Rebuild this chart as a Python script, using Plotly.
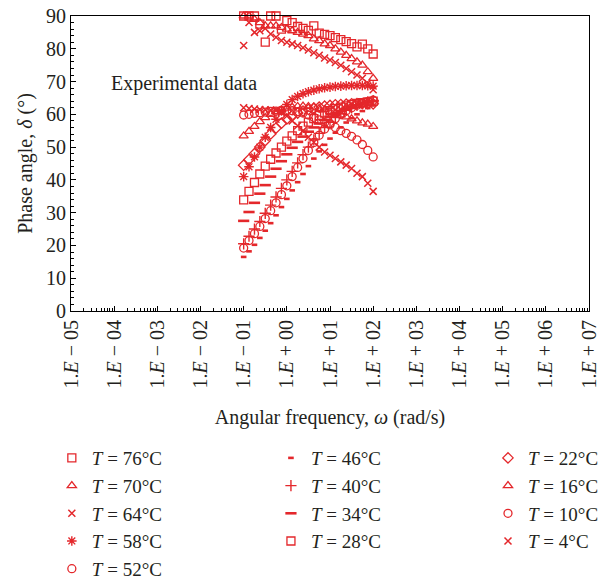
import numpy as np
import plotly.graph_objects as go

# Angular frequency sweep (rad/s)
freq = [0.1, 0.133, 0.178, 0.237, 0.316, 0.422, 0.562, 0.75, 1.0, 1.33, 1.78, 2.37,
        3.16, 4.22, 5.62, 7.5, 10.0, 13.3, 17.8, 23.7, 31.6, 42.2, 56.2, 75.0, 100.0]

# Phase angle (deg) per test temperature
delta_76 = [90, 90, 90, 87.5, 82, 90, 90, 86, 88.6, 88, 86.8, 86.2, 85.6, 87, 84.8, 84.4,
            84, 83.4, 82.8, 82.2, 81.6, 80.6, 81.4, 80, 78.4]
delta_70 = [90, 90, 89, 88, 87, 87, 87, 86.5, 86, 85.5, 85, 84.5, 84, 83, 82.5, 81.5,
            81, 80, 79, 78, 77, 76, 75, 73, 71]
delta_64 = [81, 88, 85, 85.5, 86.2, 84.5, 83.5, 82.5, 82, 81.5, 81, 80.3, 79.6, 78.8, 78, 77.2,
            76.6, 75.8, 75, 74, 73, 72, 71, 69.5, 67.5]
delta_58 = [41, 44, 47, 50, 53, 56, 58.5, 61, 63, 64.5, 65.5, 66.3, 66.9, 67.4, 67.8, 68.1,
            68.3, 68.5, 68.6, 68.7, 68.8, 68.8, 68.8, 68.7, 68.6]
delta_52 = [19.2, 21.5, 23.6, 25.8, 28.2, 30.6, 33, 35.5, 38.2, 41, 43.8, 46.5, 49, 51.4, 53.6, 55.5,
            57.2, 58.7, 60, 61.1, 62, 62.8, 63.4, 63.9, 64.3]
delta_46 = [16.5, 18.2, 20.2, 22.3, 24.5, 26.8, 29.2, 31.7, 34.2, 36.8, 39.3, 41.8, 44.2, 46.5, 48.7, 50.7,
            52.6, 54.4, 56, 57.5, 58.8, 60, 61, 61.9, 62.7]
delta_40 = [20.5, 22.8, 25, 27.3, 29.8, 32.3, 34.8, 37.4, 40, 42.6, 45.2, 47.7, 50, 52.2, 54.2, 56,
            57.6, 59, 60.2, 61.2, 62, 62.7, 63.3, 63.8, 64.2]
delta_34 = [27.5, 30.2, 33, 35.8, 38.4, 41, 43.4, 45.7, 47.8, 49.8, 51.6, 53.2, 54.7, 56, 57.2, 58.3,
            59.3, 60.2, 61, 61.7, 62.3, 62.8, 63.3, 63.7, 64]
delta_28 = [33.9, 36.5, 39.2, 41.8, 44.2, 46.3, 48.2, 50, 51.8, 53.4, 55, 56.4, 57.6, 58.7, 59.6, 60.4,
            61.1, 61.7, 62.2, 62.6, 63, 63.3, 63.6, 63.8, 64]
delta_22 = [44.5, 46.2, 48, 50, 52, 54, 55.8, 57.3, 58.6, 59.6, 60.4, 61, 61.5, 61.9, 62.2, 62.5,
            62.7, 62.9, 63, 63.1, 63.2, 63.3, 63.3, 63.3, 63.2]
delta_16 = [53.4, 54.8, 56.3, 57.8, 59, 60, 60.8, 61.4, 61.9, 62.2, 62.4, 62.5, 62.4, 62.2, 61.8, 61.4,
            60.8, 60.3, 59.8, 59.2, 58.6, 58, 57.4, 57, 56.3]
delta_10 = [59.8, 60, 60.3, 60.5, 60.7, 60.9, 61, 61.2, 61.2, 61.1, 60.8, 60.4, 59.8, 59.1, 58.3, 57.5,
            56.8, 56, 55, 54.2, 53.3, 52.2, 50.8, 49, 47]
delta_4 = [62, 61.8, 61.6, 61.5, 61.4, 61.3, 61.2, 60.5, 59.5, 58, 56.5, 55, 53, 51.5, 50, 48.5,
           47.5, 46.5, 45.5, 44.5, 43.5, 42, 41, 39, 36.5]

# x-axis decade ticks
decades = list(range(-5, 8))
tick_text = [f"1.<i>E</i> {'−' if d < 0 else '+'} {abs(d):02d}" for d in decades]

RED = "#e4272b"
TXT = "#231f20"
FONT = "Liberation Serif"

# (label, data, symbol, size, line width, legend column)
series = [
    ("76", delta_76, "square-open", 8, 1.3, "legend"),
    ("70", delta_70, "triangle-up-open", 8, 1.3, "legend"),
    ("64", delta_64, "x-thin-open", 7, 1.5, "legend"),
    ("58", delta_58, "asterisk-open", 8, 1.4, "legend"),
    ("52", delta_52, "circle-open", 8, 1.3, "legend"),
    ("46", delta_46, "line-ew-open", 4, 2.6, "legend2"),
    ("40", delta_40, "cross-thin-open", 8, 1.4, "legend2"),
    ("34", delta_34, "line-ew-open", 8, 2.6, "legend2"),
    ("28", delta_28, "square-open", 8, 1.3, "legend2"),
    ("22", delta_22, "diamond-open", 8, 1.3, "legend3"),
    ("16", delta_16, "triangle-up-open", 8, 1.3, "legend3"),
    ("10", delta_10, "circle-open", 8, 1.3, "legend3"),
    ("4", delta_4, "x-thin-open", 7, 1.5, "legend3"),
]

fig = go.Figure()
for label, vals, sym, size, lw, leg in series:
    fig.add_trace(go.Scatter(
        x=freq, y=vals, mode="markers", cliponaxis=False, legend=leg,
        name=f"<i>T</i> = {label}°C",
        marker=dict(symbol=sym, size=size, color=RED, line=dict(color=RED, width=lw)),
    ))

minor_x = [k * 10.0 ** d for d in decades[:-1] for k in range(2, 10)]

fig.update_xaxes(
    type="log", range=[-5, 7], automargin=False,
    tickmode="array", tickvals=[10.0 ** d for d in decades], ticktext=tick_text,
    tickangle=-90, ticks="inside", ticklen=5, tickcolor="black",
    minor=dict(tickmode="array", tickvals=minor_x, ticks="inside", ticklen=3, tickcolor="black"),
    showline=True, linecolor="black", linewidth=1, mirror=True, showgrid=False, zeroline=False,
    tickfont=dict(family=FONT, size=20, color=TXT),
    title=dict(text="Angular frequency, <i>ω</i> (rad/s)", font=dict(family=FONT, size=20, color=TXT),
               standoff=22),
)
fig.update_yaxes(
    range=[0, 90], tickmode="linear", tick0=0, dtick=10, automargin=False,
    ticks="inside", ticklen=5, tickcolor="black",
    minor=dict(dtick=2, ticks="inside", ticklen=3, tickcolor="black"),
    showline=True, linecolor="black", linewidth=1, mirror=True, showgrid=False, zeroline=False,
    tickfont=dict(family=FONT, size=20, color=TXT),
    title=dict(text="Phase angle, <i>δ</i> (°)", font=dict(family=FONT, size=20, color=TXT),
               standoff=8),
)

fig.add_annotation(x=-4.12, y=69.5, xref="x", yref="y", text="Experimental data",
                   showarrow=False, xanchor="left", yanchor="middle",
                   font=dict(family=FONT, size=20, color=TXT))

# three legend columns in the bottom margin (paper coordinates, margins fixed)
leg_common = dict(orientation="v", xanchor="left", yanchor="top", y=-0.434,
                  traceorder="normal", bgcolor="rgba(0,0,0,0)",
                  font=dict(family=FONT, size=19, color=TXT))

fig.update_layout(
    width=607, height=584,
    margin=dict(l=71, r=18, t=16, b=273, autoexpand=False),
    paper_bgcolor="white", plot_bgcolor="white",
    showlegend=True,
    legend=dict(x=-0.037, **leg_common),
    legend2=dict(x=0.386, **leg_common),
    legend3=dict(x=0.805, **leg_common),
)

fig.write_html("out.html")
